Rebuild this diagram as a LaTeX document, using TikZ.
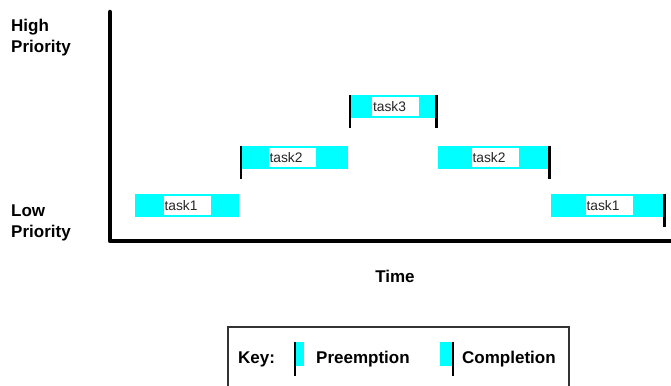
\documentclass[tikz,border=0pt]{standalone}
\usepackage{fontspec}
\setmainfont{Liberation Sans}
\definecolor{aqua}{RGB}{0,255,255}
\begin{document}
\begin{tikzpicture}[x=1pt,y=-1pt,
  lbl/.style={font=\fontsize{17}{19}\selectfont\bfseries, anchor=base west, inner sep=0},
  bar/.style={fill=aqua, draw=none, inner sep=0, minimum height=23pt},
  tasklbl/.style={fill=white, draw=none, inner xsep=1pt, inner ysep=0, text width=45pt, align=left, minimum height=19pt, font=\fontsize{13.8}{15}\selectfont, text=black!85},
  endbar/.style={line width=2.6pt, black}
]
\useasboundingbox (0,0) rectangle (671,385);
% axes
\coordinate (top) at (110,12);
\coordinate (orig) at (110,241);
\coordinate (right) at (671,241);
\draw[line width=4.5pt, line cap=round, line join=round] (top) -- (orig) -- (right);
% labels
\node[lbl] (hp1) at (11,32) {High};
\node[lbl] (hp2) at (11,53) {Priority};
\node[lbl] (lp1) at (11,216) {Low};
\node[lbl] (lp2) at (11,237) {Priority};
\node[font=\fontsize{17}{19}\selectfont\bfseries, inner sep=0] (time) at (395,276) {Time};
% task1 first
\node[bar, minimum width=104pt] (t1a) at (187,205.5) {};
\node[tasklbl] (t1al) at (187,205.5) {task1};
% task2 first
\node[bar, minimum width=107pt] (t2a) at (294.5,157.5) {};
\node[tasklbl] (t2al) at (292,157.5) {task2};
\draw[endbar] (t2a.north west) -- ++(0,33);
% task3
\node[bar, minimum width=86pt] (t3) at (393,106.5) {};
\node[tasklbl] (t3l) at (395.5,106.5) {task3};
\draw[endbar] (t3.north west) -- ++(0,33);
\draw[endbar] (t3.north east) -- ++(0,33);
% task2 second
\node[bar, minimum width=111pt] (t2b) at (493.5,157.5) {};
\node[tasklbl] (t2bl) at (495,157.5) {task2};
\draw[endbar] (t2b.north east) -- ++(0,33);
% task1 second
\node[bar, minimum width=113pt] (t1b) at (607.5,205.5) {};
\node[tasklbl] (t1bl) at (609,205.5) {task1};
\draw[endbar] (t1b.north east) -- ++(0,33);
% key box
\draw[line width=1.3pt, black!80] (228,327) rectangle (569,395);
\node[lbl] (key) at (238,363) {Key:};
\node[fill=aqua, inner sep=0, minimum width=9pt, minimum height=24pt, anchor=north west] (kp) at (295,342) {};
\draw[endbar] (kp.north west) -- ++(0,34);
\node[lbl] (kpl) at (316,363) {Preemption};
\node[fill=aqua, inner sep=0, minimum width=13pt, minimum height=24pt, anchor=north east] (kc) at (453,342) {};
\draw[endbar] (kc.north east) -- ++(0,34);
\node[lbl] (kcl) at (462,363) {Completion};
\end{tikzpicture}
\end{document}
